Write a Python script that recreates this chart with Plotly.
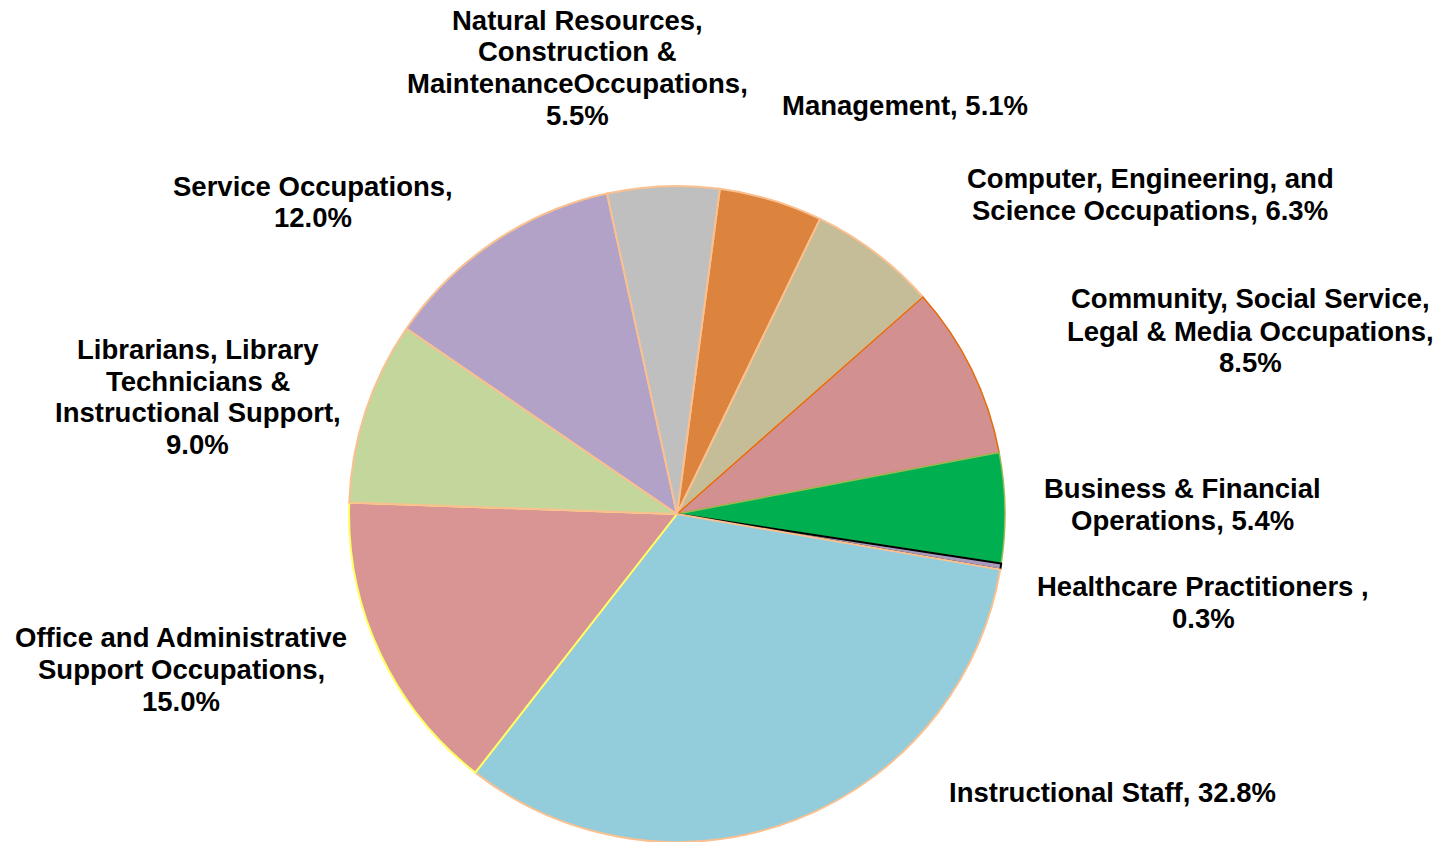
import plotly.graph_objects as go

labels = [
    "Management",
    "Computer, Engineering, and Science Occupations",
    "Community, Social Service, Legal & Media Occupations",
    "Business & Financial Operations",
    "Healthcare Practitioners ",
    "Instructional Staff",
    "Office and Administrative Support Occupations",
    "Librarians, Library Technicians & Instructional Support",
    "Service Occupations",
    "Natural Resources, Construction & MaintenanceOccupations",
]
shares = [5.1, 6.3, 8.5, 5.4, 0.3, 32.8, 15.0, 9.0, 12.0, 5.5]

colors = ["#DC843E", "#C4BD97", "#D29190", "#00B050", "#A99BC0",
          "#93CDDC", "#D99594", "#C3D69B", "#B2A2C7", "#BFBFBF"]
edge_colors = ["#FAC090", "#FAC090", "#E46C0A", "#9BBB59", "#000000",
               "#FAC090", "#FFFF66", "#FAC090", "#FAC090", "#FAC090"]
edge_widths = [2, 2, 1.5, 1.5, 2, 2, 2, 2, 2, 2]

# label blocks beside the pie: lines, and block centre in px
label_lines = [
    ["Management, 5.1%"],
    ["Computer, Engineering, and", "Science Occupations, 6.3%"],
    ["Community, Social Service,", "Legal & Media Occupations,", "8.5%"],
    ["Business & Financial", "Operations, 5.4%"],
    ["Healthcare Practitioners ,", "0.3%"],
    ["Instructional Staff, 32.8%"],
    ["Office and Administrative", "Support Occupations,", "15.0%"],
    ["Librarians, Library", "Technicians &", "Instructional Support,", "9.0%"],
    ["Service Occupations,", "12.0%"],
    ["Natural Resources,", "Construction &", "MaintenanceOccupations,", "5.5%"],
]
label_pos = [(905, 105), (1150, 194), (1250, 331), (1182, 504), (1203, 602),
             (1112, 792), (181, 669), (198, 397), (313, 202), (577, 68)]

W, H = 1445, 842
off = 8  # page body margin
cx, cy, r = 677 - off, 514 - off, 328
line_h = 32

fig = go.Figure(go.Pie(
    labels=labels,
    values=shares,
    sort=False,
    direction="clockwise",
    rotation=7.5,
    marker=dict(colors=colors, line=dict(color=edge_colors, width=edge_widths)),
    textinfo="none",
    hoverinfo="label+percent",
    showlegend=False,
    domain=dict(x=[(cx - r) / W, (cx + r) / W], y=[1 - (cy + r) / H, 1 - (cy - r) / H]),
))

for lines, (x, y) in zip(label_lines, label_pos):
    n = len(lines)
    for i, ln in enumerate(lines):
        ly = y - off + (i - (n - 1) / 2) * line_h
        fig.add_annotation(
            x=(x - off) / W, y=1 - ly / H, xref="paper", yref="paper",
            text="<b>" + ln + "</b>", showarrow=False,
            xanchor="center", yanchor="middle", align="center",
            font=dict(family="Arial, Liberation Sans, sans-serif", size=27.5, color="black"),
        )

fig.update_layout(
    width=W, height=H,
    margin=dict(l=0, r=0, t=0, b=0),
    paper_bgcolor="white",
    plot_bgcolor="white",
)

fig.write_html("out.html")
